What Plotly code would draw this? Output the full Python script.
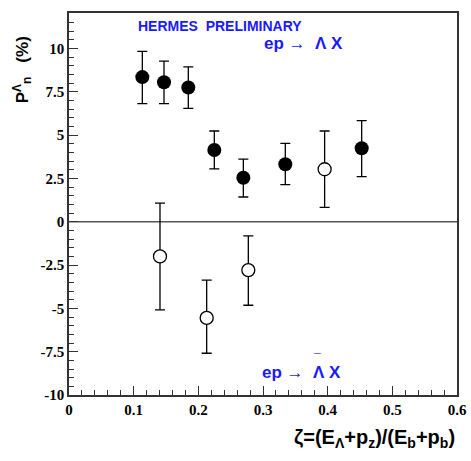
import plotly.graph_objects as go

# Filled points: ep -> Lambda X
x_lam = [0.1134, 0.1469, 0.1845, 0.2247, 0.2696, 0.3345, 0.4526]
y_lam = [8.35, 8.05, 7.75, 4.14, 2.54, 3.32, 4.24]
up_lam = [9.83, 9.27, 8.94, 5.24, 3.62, 4.53, 5.84]
lo_lam = [6.82, 6.82, 6.55, 3.05, 1.43, 2.14, 2.60]

# Open points: ep -> anti-Lambda X
x_alam = [0.1407, 0.2129, 0.2773, 0.3953]
y_alam = [-2.00, -5.55, -2.79, 3.03]
up_alam = [1.08, -3.37, -0.81, 5.24]
lo_alam = [-5.09, -7.59, -4.82, 0.83]

ytick_vals = [-10, -7.5, -5, -2.5, 0, 2.5, 5, 7.5, 10]
ytick_text = ["-10", "-7.5", "-5", "-2.5", "0", "2.5", "5", "7.5", "10"]
xtick_vals = [0, 0.1, 0.2, 0.3, 0.4, 0.5, 0.6]
xtick_text = ["0", "0.1", "0.2", "0.3", "0.4", "0.5", "0.6"]

fig = go.Figure()

fig.add_trace(go.Scatter(
    x=x_lam, y=y_lam, mode="markers",
    marker=dict(size=14, color="black", line=dict(width=0)),
    error_y=dict(type="data", symmetric=False,
                 array=[u - y for u, y in zip(up_lam, y_lam)],
                 arrayminus=[y - l for l, y in zip(lo_lam, y_lam)],
                 color="black", thickness=1.3, width=5),
    showlegend=False))

fig.add_trace(go.Scatter(
    x=x_alam, y=y_alam, mode="markers",
    marker=dict(size=13, color="white", line=dict(width=1.3, color="black")),
    error_y=dict(type="data", symmetric=False,
                 array=[u - y for u, y in zip(up_alam, y_alam)],
                 arrayminus=[y - l for l, y in zip(lo_alam, y_alam)],
                 color="black", thickness=1.3, width=5),
    showlegend=False))

fig.add_hline(y=0, line=dict(color="#555555", width=1.5), layer="below")

tickfont = dict(family="Times New Roman", size=15, color="black", weight="bold")

fig.update_layout(
    width=471, height=461,
    margin=dict(l=69, r=14, t=13, b=66, autoexpand=False),
    paper_bgcolor="white", plot_bgcolor="white",
    xaxis=dict(range=[0, 0.6], showgrid=False, zeroline=False, automargin=False,
               showline=True, linecolor="#333333", linewidth=1.5, mirror=True,
               ticks="inside", ticklen=9, tickwidth=1, tickcolor="#333333",
               tickvals=xtick_vals, ticktext=xtick_text, tickfont=tickfont,
               minor=dict(dtick=0.02, ticks="inside", ticklen=5, tickcolor="#333333", tickwidth=1, showgrid=False)),
    yaxis=dict(range=[-10, 12.05], showgrid=False, zeroline=False, automargin=False,
               showline=True, linecolor="#333333", linewidth=1.5, mirror=True,
               ticks="inside", ticklen=9, tickwidth=1, tickcolor="#333333",
               tickvals=ytick_vals, ticktext=ytick_text, tickfont=tickfont,
               minor=dict(dtick=0.5, ticks="inside", ticklen=5, tickcolor="#333333", tickwidth=1, showgrid=False)),
)

blue = "#1a1aff"
sans = "Liberation Sans, Arial, sans-serif"
afont = dict(family=sans, size=17, color=blue, weight="bold")
fig.add_annotation(x=0.2335, y=11.3, xref="x", yref="y", text="HERMES  PRELIMINARY",
                   showarrow=False, font=dict(family=sans, size=14, color=blue, weight="bold"))
fig.add_annotation(text="ep \u2192  \u039b X", showarrow=False, x=0.363, y=10.3, xref="x", yref="y", font=afont)
fig.add_annotation(text="ep \u2192  \u039b X", showarrow=False, x=0.3595, y=-8.69, xref="x", yref="y", font=afont)
fig.add_annotation(text="\u00af", showarrow=False, x=0.3835, y=-7.95, xref="x", yref="y",
                   font=dict(family=sans, size=12, color=blue, weight="bold"))

fig.add_annotation(text="\u03b6=(E<sub>\u039b</sub>+p<sub>z</sub>)/(E<sub>b</sub>+p<sub>b</sub>)",
                   showarrow=False, xref="paper", yref="paper", x=1.0, y=-0.113,
                   xanchor="right", yanchor="middle",
                   font=dict(family=sans, size=20, color="black", weight="bold"))
fig.add_annotation(text="P<sup>\u039b</sup><sub>n</sub>   (%)", textangle=-90,
                   showarrow=False, xref="paper", yref="paper", x=-0.121, y=0.85,
                   xanchor="center", yanchor="middle",
                   font=dict(family=sans, size=17, color="black", weight="bold"))

fig.write_html("out.html")
